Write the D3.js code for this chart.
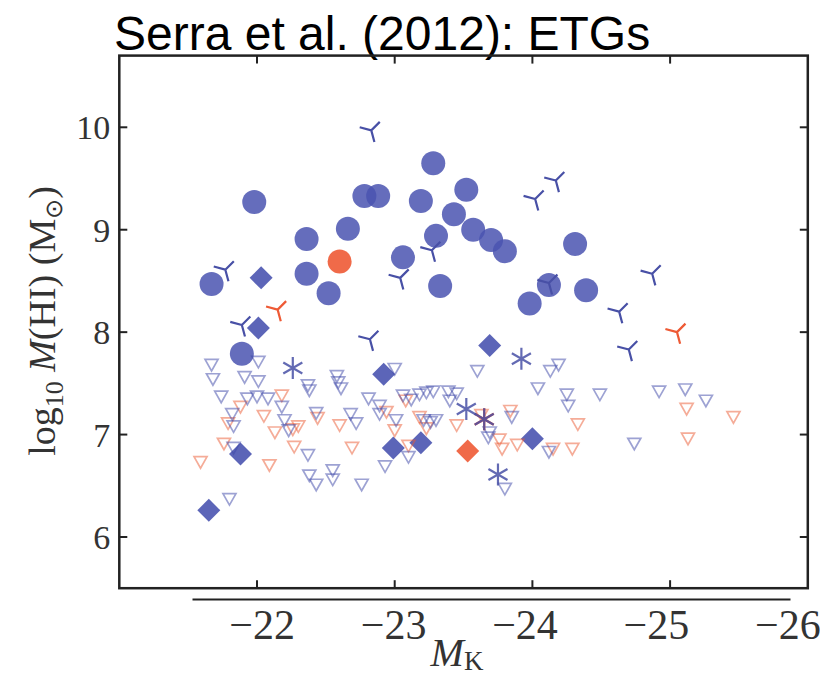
<!DOCTYPE html>
<html>
<head>
<meta charset="utf-8">
<script src="https://cdn.jsdelivr.net/npm/d3@7"></script>
<style>
  html, body { margin: 0; padding: 0; background: #fff; }
  svg { display: block; }
</style>
</head>
<body>
<svg id="chart" width="820" height="677"></svg>
<script>
// [M_K, log10 M(HI)] for each galaxy class
const blueCircles = [
  [-21.67, 8.47], [-21.98, 9.27], [-22.36, 8.91], [-22.36, 8.57], [-22.52, 8.38],
  [-22.66, 9.01], [-22.78, 9.33], [-22.88, 9.33], [-23.06, 8.73], [-23.19, 9.28],
  [-23.28, 9.65], [-23.30, 8.94], [-23.33, 8.45], [-23.43, 9.15], [-23.52, 9.39],
  [-23.57, 9.00], [-23.70, 8.90], [-23.80, 8.79], [-23.98, 8.28], [-24.12, 8.46],
  [-24.31, 8.86], [-24.39, 8.41], [-21.89, 7.79]
];
const orangeCircles = [[-22.60, 8.69]];

const blueDiamonds = [
  [-22.03, 8.53], [-22.01, 8.04], [-22.92, 7.59], [-21.88, 6.81], [-21.65, 6.26],
  [-22.99, 6.87], [-23.19, 6.92], [-23.69, 7.87], [-24.00, 6.96]
];
const orangeDiamonds = [[-23.53, 6.84]];

const blueTris = [
  [-22.83, 9.97], [-21.77, 8.61], [-23.04, 8.53], [-23.27, 8.80], [-24.17, 9.48],
  [-24.02, 9.30], [-24.12, 8.48], [-24.87, 8.57], [-24.63, 8.20], [-21.89, 8.07],
  [-22.82, 7.93], [-24.70, 7.83]
];
const orangeTris = [[-22.15, 8.22], [-25.05, 8.00]];

const blueStars = [[-22.26, 7.65], [-23.92, 7.74], [-23.52, 7.25], [-23.65, 7.15], [-23.75, 6.61]];
const orangeStars = [[-23.65, 7.15]];

// upper limits (non-detections)
const blueLimits = [
  [-21.67, 7.68], [-21.68, 7.54], [-22.01, 7.71], [-21.91, 7.56], [-22.01, 7.52],
  [-21.74, 7.37], [-21.93, 7.35], [-22.00, 7.37], [-22.08, 7.35], [-22.18, 7.27],
  [-21.82, 7.20], [-21.83, 7.08], [-22.20, 7.14], [-22.23, 7.04], [-22.37, 7.48],
  [-22.38, 7.43], [-22.43, 7.21], [-22.37, 6.80], [-22.38, 6.60], [-22.43, 6.51],
  [-21.80, 6.37], [-21.83, 6.87], [-22.58, 7.57], [-22.59, 7.51], [-22.61, 7.45],
  [-22.81, 7.35], [-22.89, 7.28], [-22.89, 7.20], [-22.68, 7.20], [-22.72, 7.11],
  [-23.00, 7.64], [-23.06, 7.38], [-23.12, 7.34], [-23.18, 7.39], [-23.23, 7.41],
  [-23.28, 7.42], [-23.39, 7.42], [-23.45, 7.40], [-23.01, 7.14], [-23.21, 7.14],
  [-23.26, 7.12], [-23.30, 7.14], [-23.10, 6.78], [-22.93, 6.69], [-22.55, 6.65],
  [-22.55, 6.56], [-22.76, 6.51], [-23.40, 7.33], [-23.60, 7.62], [-24.13, 7.62],
  [-24.19, 7.68], [-24.04, 7.45], [-24.25, 7.39], [-24.26, 7.28], [-24.49, 7.39],
  [-24.92, 7.42], [-25.11, 7.44], [-25.26, 7.33], [-24.74, 6.91], [-23.85, 7.17],
  [-23.69, 7.02], [-23.68, 6.97], [-24.12, 6.83], [-23.80, 6.47]
];
const orangeLimits = [
  [-22.18, 7.38], [-21.88, 7.27], [-21.79, 7.11], [-22.05, 7.18], [-22.13, 7.02],
  [-22.26, 7.05], [-22.30, 7.08], [-21.76, 6.91], [-22.27, 6.88], [-21.59, 6.73],
  [-22.09, 6.70], [-22.44, 7.16], [-22.60, 7.09], [-22.69, 6.87], [-23.08, 7.33],
  [-22.94, 7.22], [-23.00, 7.04], [-23.18, 7.17], [-23.23, 7.06], [-23.10, 6.89],
  [-23.45, 7.09], [-23.84, 7.23], [-23.63, 7.19], [-24.33, 7.10], [-23.76, 6.95],
  [-23.78, 6.86], [-23.89, 6.90], [-24.15, 6.86], [-24.29, 6.86], [-25.12, 7.25],
  [-25.46, 7.17], [-25.13, 6.96]
];

const xTicks = [-22, -23, -24, -25, -26];
const yTicks = [6, 7, 8, 9, 10];

const BLUE = "#4a54b0", ORANGE = "#ee5a35", DARKBLUE = "#4850a6";
const serif = "'Liberation Serif', 'Times New Roman', serif";

const svg = d3.select("#chart");

// plotting frame
const frame = { left: 119.3, right: 807.8, top: 55.6, bottom: 588.2 };
const x = d3.scaleLinear().domain([-21, -26]).range([frame.left, frame.right]);
const y = d3.scaleLinear().domain([5.5, 10.7]).range([frame.bottom, frame.top]);

// title
svg.append("text")
  .attr("x", 114).attr("y", 50)
  .attr("font-family", "'Liberation Sans', Arial, sans-serif")
  .attr("font-size", 48)
  .attr("fill", "#000")
  .text("Serra et al. (2012): ETGs");

const plot = svg.append("g");

// symbol shapes
const triDownPath = "M-6.5,-5.5L6.5,-5.5L0,6Z";
function armsPath(angles, len) {
  return angles.map(a => {
    const r = a * Math.PI / 180;
    return `M0,0L${(len * Math.cos(r)).toFixed(2)},${(-len * Math.sin(r)).toFixed(2)}`;
  }).join("");
}
const triPath = armsPath([285, 165, 45], 12);
const starPath = armsPath([90, 270, 30, 210, 150, 330], 11);
const diamondPath = "M0,-11.5L11.5,0L0,11.5L-11.5,0Z";

const tr = d => `translate(${x(d[0])},${y(d[1])})`;

// filled detections
plot.selectAll(".circB").data(blueCircles).join("circle")
  .attr("cx", d => x(d[0])).attr("cy", d => y(d[1])).attr("r", 12)
  .attr("fill", BLUE).attr("fill-opacity", 0.85);
plot.selectAll(".circO").data(orangeCircles).join("circle")
  .attr("cx", d => x(d[0])).attr("cy", d => y(d[1])).attr("r", 12)
  .attr("fill", ORANGE).attr("fill-opacity", 0.9);

plot.selectAll(".diaB").data(blueDiamonds).join("path")
  .attr("transform", tr).attr("d", diamondPath)
  .attr("fill", BLUE).attr("fill-opacity", 0.9);
plot.selectAll(".diaO").data(orangeDiamonds).join("path")
  .attr("transform", tr).attr("d", diamondPath)
  .attr("fill", ORANGE).attr("fill-opacity", 0.9);

// upper limits
plot.append("g").selectAll("path").data(orangeLimits).join("path")
  .attr("transform", tr).attr("d", triDownPath)
  .attr("fill", "none").attr("stroke", "#eb5a32").attr("stroke-opacity", 0.5)
  .attr("stroke-width", 1.7);
plot.append("g").selectAll("path").data(blueLimits).join("path")
  .attr("transform", tr).attr("d", triDownPath)
  .attr("fill", "none").attr("stroke", "#3c46a8").attr("stroke-opacity", 0.5)
  .attr("stroke-width", 1.7);

// line markers
plot.append("g").selectAll("path").data(blueTris).join("path")
  .attr("transform", tr).attr("d", triPath)
  .attr("fill", "none").attr("stroke", DARKBLUE).attr("stroke-width", 2.2);
plot.append("g").selectAll("path").data(orangeTris).join("path")
  .attr("transform", tr).attr("d", triPath)
  .attr("fill", "none").attr("stroke", ORANGE).attr("stroke-width", 2.2);
plot.append("g").selectAll("path").data(orangeStars).join("path")
  .attr("transform", tr).attr("d", starPath)
  .attr("fill", "none").attr("stroke", ORANGE).attr("stroke-width", 2.2);
plot.append("g").selectAll("path").data(blueStars).join("path")
  .attr("transform", tr).attr("d", starPath)
  .attr("fill", "none").attr("stroke", DARKBLUE).attr("stroke-opacity", 0.85)
  .attr("stroke-width", 2.2);

// frame and inward ticks
const axisG = svg.append("g").attr("stroke", "#222").attr("fill", "none");
axisG.append("rect")
  .attr("x", frame.left).attr("y", frame.top)
  .attr("width", frame.right - frame.left).attr("height", frame.bottom - frame.top)
  .attr("stroke-width", 2.5);
const tickLen = 8;
xTicks.filter(v => v > -26).forEach(v => {
  axisG.append("line").attr("x1", x(v)).attr("x2", x(v))
    .attr("y1", frame.top).attr("y2", frame.top + tickLen).attr("stroke-width", 2);
  axisG.append("line").attr("x1", x(v)).attr("x2", x(v))
    .attr("y1", frame.bottom).attr("y2", frame.bottom - tickLen).attr("stroke-width", 2);
});
yTicks.forEach(v => {
  axisG.append("line").attr("x1", frame.left).attr("x2", frame.left + tickLen)
    .attr("y1", y(v)).attr("y2", y(v)).attr("stroke-width", 2);
  axisG.append("line").attr("x1", frame.right).attr("x2", frame.right - tickLen)
    .attr("y1", y(v)).attr("y2", y(v)).attr("stroke-width", 2);
});

// y tick labels
const yAxis = svg.append("g")
  .attr("transform", `translate(${frame.left},0)`)
  .call(d3.axisLeft(y).tickValues(yTicks).tickSize(0).tickPadding(9).tickFormat(d3.format("d")));
yAxis.select(".domain").remove();
yAxis.selectAll("text")
  .attr("font-family", serif).attr("font-size", 34).attr("fill", "#333").attr("dy", "0.34em");

// magnitude scale beneath the frame
const xLab = d3.scaleLinear().domain([-21.47, -26.02]).range([192, 790]);
const xAxis = svg.append("g")
  .attr("transform", "translate(0,599)")
  .call(d3.axisBottom(xLab).tickValues(xTicks).tickSize(0).tickSizeOuter(0)
    .tickFormat(d => "\u2212" + Math.abs(d)));
xAxis.select(".domain").attr("stroke", "#222").attr("stroke-width", 2);
xAxis.selectAll("text")
  .attr("font-family", serif).attr("font-size", 42).attr("fill", "#333")
  .attr("y", 40).attr("dy", 0);

// axis titles
const xt = svg.append("text")
  .attr("x", 457).attr("y", 666)
  .attr("text-anchor", "middle")
  .attr("font-family", serif).attr("font-size", 40).attr("fill", "#333");
xt.append("tspan").attr("font-style", "italic").text("M");
xt.append("tspan").attr("font-size", 27).attr("dy", 4).text("K");

const yt = svg.append("text")
  .attr("transform", "translate(55,321) rotate(-90)")
  .attr("text-anchor", "middle")
  .attr("font-family", serif).attr("font-size", 38).attr("fill", "#333");
yt.append("tspan").text("log");
yt.append("tspan").attr("font-size", 26).attr("dy", 8).text("10");
yt.append("tspan").attr("dy", -8).text(" ");
yt.append("tspan").attr("font-style", "italic").text("M");
yt.append("tspan").text("(HI) (M");
yt.append("tspan").attr("font-size", 24).attr("dy", 7).text("\u2299");
yt.append("tspan").attr("dy", -7).text(")");
</script>
</body>
</html>
